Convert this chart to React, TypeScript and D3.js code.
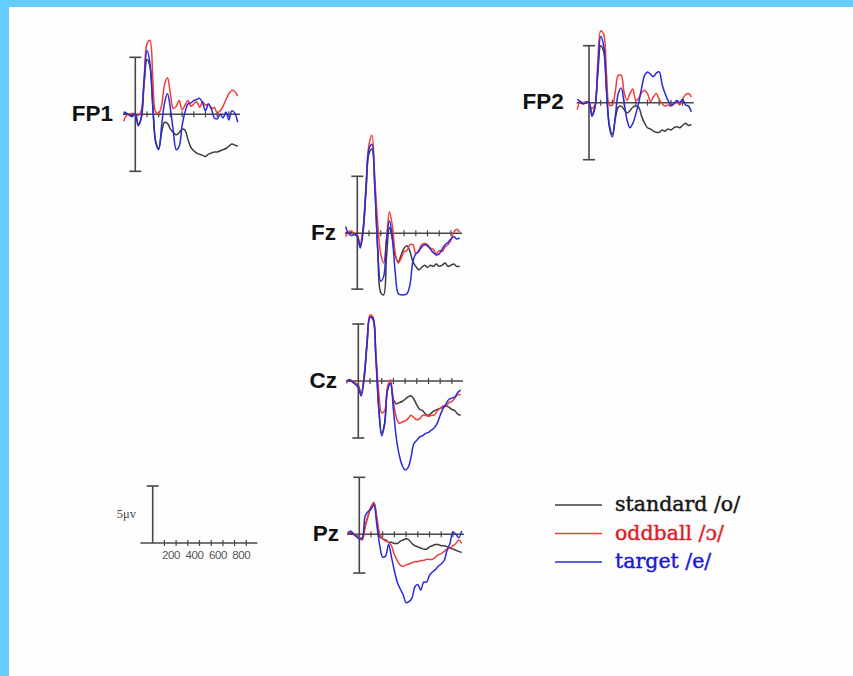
import React from 'react';
import * as d3 from 'd3';

// sample times (ms) shared by every trace
const times = [-100, -75, -50, -25, 0, 25, 50, 75, 100, 125, 150, 175, 200, 225, 250, 275, 300, 325, 350, 375,
  400, 425, 450, 475, 500, 525, 550, 575, 600, 625, 650, 675, 700, 725, 750, 775, 800, 825, 850, 875];

// amplitudes in microvolts
const fp1Standard = [0.1, 0.0, 0.0, -0.1, 0.0, -0.9, -0.4, 2.6, 4.8, 4.2, 0.8, -2.4, -3.0, -1.6, -0.7, -0.8, -1.3, -1.6, -1.8, -1.6,
  -1.3, -1.4, -2.2, -2.9, -3.2, -3.4, -3.5, -3.6, -3.7, -3.5, -3.4, -3.3, -3.3, -3.2, -3.1, -3.0, -2.8, -2.6, -2.7, -2.8];
const fp1Oddball = [-0.6, -0.1, 0.0, 0.1, 0.0, -0.1, 0.3, 2.9, 6.2, 6.5, 3.1, 0.2, 0.1, 0.8, 2.6, 3.2, 1.8, 0.5, 0.7, 1.2,
  0.4, 0.8, 1.2, 0.7, 0.9, 1.1, 0.6, 1.1, 0.8, 0.9, 0.5, 0.6, 0.1, 0.3, 0.7, 1.3, 1.8, 2.1, 2.0, 1.6];
const fp1Target = [0.2, 0.1, -0.1, -0.2, 0.1, -1.0, -0.3, 3.0, 5.6, 4.5, 0.5, -2.5, -3.1, -1.0, 1.0, 1.8, 0.5, -1.5, -3.1, -2.8,
  -1.0, 0.2, 0.9, 1.0, 1.2, 1.3, 1.4, 1.0, 0.3, 0.9, 0.5, -0.3, -0.4, 0.0, -0.3, 0.2, -0.5, 0.3, 0.1, -0.7];

const fp2Standard = [0.0, 0.0, -0.1, 0.0, 0.0, -1.0, -0.4, 2.5, 5.0, 4.5, 1.0, -2.0, -2.8, -1.4, -0.4, -0.3, -0.6, -0.9, -0.7, -0.4,
  -0.3, -0.4, -1.2, -1.8, -2.2, -2.3, -2.5, -2.6, -2.6, -2.4, -2.5, -2.3, -2.4, -2.2, -2.1, -2.2, -2.0, -1.8, -2.0, -1.9];
const fp2Oddball = [-0.6, 0.1, 0.0, 0.1, -0.1, -0.5, -0.2, 3.5, 6.3, 6.0, 2.5, -0.2, -0.2, 1.0, 2.4, 2.4, 0.9, 0.2, 0.8, 1.2,
  0.2, 0.4, 0.9, 1.1, 0.8, 0.1, 0.5, 0.8, 0.3, -0.1, -0.3, -0.2, -0.3, -0.1, 0.1, -0.2, 0.3, 0.7, 0.8, 0.5];
const fp2Target = [0.3, 0.1, -0.1, 0.0, 0.1, -1.2, -0.5, 2.8, 5.8, 5.0, 1.0, -2.2, -3.0, -1.2, 0.8, 1.3, 0.0, -1.5, -2.2, -1.8,
  -1.0, 0.0, 1.3, 2.4, 2.7, 2.5, 2.3, 2.6, 2.7, 1.6, 0.8, 0.2, -0.2, -0.1, 0.2, 0.0, 0.3, -0.2, -0.3, -0.8];

const fzStandard = [0.1, 0.0, 0.1, 0.0, -0.2, -1.1, 0.3, 3.8, 7.0, 7.4, 4.0, -1.5, -5.2, -5.4, -2.0, 0.5, -0.5, -2.0, -2.5, -1.9,
  -1.3, -1.1, -1.6, -2.5, -2.9, -3.2, -3.0, -2.8, -3.0, -2.8, -2.9, -2.7, -2.9, -2.8, -2.6, -2.9, -2.8, -2.7, -2.9, -2.9];
const fzOddball = [-0.3, 0.1, 0.2, -0.1, -0.2, -0.9, 0.5, 4.3, 7.8, 8.6, 4.7, 0.8, -1.8, -2.6, -0.5, 1.9, 0.6, -1.8, -2.6, -2.2,
  -1.6, -1.5, -1.0, -1.0, -1.8, -1.5, -1.0, -0.9, -1.0, -1.3, -1.4, -1.8, -1.5, -1.6, -1.2, -1.0, -0.6, 0.1, 0.35, 0.1];
const fzTarget = [0.6, 0.0, -0.2, -0.1, -0.3, -1.3, 0.2, 4.0, 7.4, 7.8, 4.1, -1.5, -4.2, -3.8, -0.5, 1.1, -0.5, -3.5, -5.3, -5.4,
  -5.4, -5.3, -4.5, -2.5, -1.8, -1.6, -1.2, -1.0, -1.1, -1.4, -1.7, -1.9, -1.8, -1.4, -1.0, -0.8, -0.5, -0.3, -0.5, -0.4];

const czStandard = [0.0, 0.0, 0.0, -0.2, -0.4, -1.1, 0.4, 3.3, 5.6, 5.4, 2.2, -2.3, -4.6, -3.7, -0.7, -0.2, -1.6, -2.0, -1.9, -1.8,
  -1.6, -1.4, -1.3, -1.6, -2.1, -2.5, -2.6, -2.9, -3.0, -2.8, -2.6, -2.5, -2.4, -2.3, -2.2, -2.3, -2.5, -2.6, -2.9, -3.0];
const czOddball = [-0.2, 0.1, 0.0, -0.2, -0.5, -1.1, 0.5, 3.5, 5.8, 5.6, 2.5, -1.0, -2.8, -2.6, -0.5, 0.1, -1.8, -3.2, -3.7, -3.6,
  -3.5, -3.3, -3.0, -3.2, -3.4, -3.3, -3.0, -3.0, -3.1, -3.0, -3.0, -2.6, -2.4, -2.2, -2.2, -1.9, -1.8, -1.5, -1.2, -1.2];
const czTarget = [0.0, 0.1, -0.1, -0.3, -0.6, -1.3, 0.2, 3.3, 5.6, 5.5, 2.0, -2.5, -4.8, -3.8, -0.8, -0.2, -2.5, -5.0, -6.5, -7.4,
  -7.8, -7.6, -6.7, -5.5, -5.2, -4.9, -4.8, -4.6, -4.5, -4.3, -4.1, -3.7, -3.0, -2.4, -2.0, -1.6, -1.5, -1.4, -1.0, -0.8];

const pzStandard = [0.0, 0.1, 0.0, -0.1, -0.3, -0.4, 0.8, 1.6, 2.4, 2.7, 1.2, -0.2, -0.4, -0.5, -0.7, -0.7, -0.8, -0.8, -0.6, -0.5,
  -0.4, -0.5, -0.8, -1.0, -1.1, -1.2, -1.3, -1.3, -1.1, -1.0, -0.9, -0.9, -1.0, -1.0, -1.1, -1.2, -1.3, -1.4, -1.5, -1.6];
const pzOddball = [0.0, 0.2, 0.1, -0.1, -0.3, -0.5, 0.6, 1.6, 2.4, 2.8, 1.5, 0.0, -0.4, -0.6, -0.7, -1.0, -1.8, -2.3, -2.7, -2.8,
  -2.7, -2.6, -2.5, -2.4, -2.4, -2.3, -2.3, -2.2, -2.2, -2.2, -2.0, -1.8, -1.7, -1.5, -1.3, -1.2, -1.0, -0.8, -0.5, -0.8];
const pzTarget = [0.1, 0.3, 0.0, -0.2, -0.4, -0.3, 1.6, 2.0, 2.2, 2.6, 0.8, -1.0, -2.0, -1.9, -0.9, -2.0, -3.2, -4.2, -4.8, -5.3,
  -6.0, -5.9, -5.6, -4.6, -4.4, -4.9, -4.2, -4.2, -3.6, -3.3, -3.1, -2.8, -2.6, -2.3, -1.4, -0.8, 0.2, 0.0, -0.3, 0.3];

const tickTimes = [100, 200, 300, 400, 500, 600, 700, 800];
const scaleLabels = [200, 400, 600, 800];
const conditions = ['standard /o/', 'oddball /ɔ/', 'target /e/'];
const colors = ['#3c3c3c', '#f03c3c', '#2a2ad8'];
const textColors = ['#161616', '#e01e28', '#1a1ad0'];

const PX_PER_MS = 0.117;
const PX_PER_UV = 11.4;
const AXIS_COLOR = '#474747';

const panels = [
  { name: 'FP1', x: 135.3, y: 114.3, top: 5, bottom: -5, gap: 10, series: [fp1Standard, fp1Oddball, fp1Target] },
  { name: 'FP2', x: 589, y: 102.7, top: 5, bottom: -5, gap: 13, series: [fp2Standard, fp2Oddball, fp2Target] },
  { name: 'Fz', x: 357.3, y: 233.3, top: 5, bottom: -4.9, gap: 9, series: [fzStandard, fzOddball, fzTarget] },
  { name: 'Cz', x: 358.3, y: 381, top: 5, bottom: -5, gap: 9, series: [czStandard, czOddball, czTarget] },
  { name: 'Pz', x: 359.3, y: 534.3, top: 5, bottom: -3.4, gap: 8, series: [pzStandard, pzOddball, pzTarget] },
];

const makeScales = (x0: number, y0: number) => {
  const x = d3.scaleLinear().domain([0, 100]).range([x0, x0 + 100 * PX_PER_MS]);
  const y = d3.scaleLinear().domain([0, 1]).range([y0, y0 - PX_PER_UV]);
  return { x, y };
};

const TimeAxis = ({ x, y }: { x: d3.ScaleLinear<number, number>; y: number }) => (
  <g stroke={AXIS_COLOR} strokeWidth={1.5}>
    <line x1={x(-105)} x2={x(895)} y1={y} y2={y} />
    {tickTimes.map(t => (
      <line key={t} x1={x(t)} x2={x(t)} y1={y - 3} y2={y + 3} strokeWidth={1.2} />
    ))}
  </g>
);

const Panel = ({ p }: { p: typeof panels[number] }) => {
  const { x, y } = makeScales(p.x, p.y);
  const line = d3.line<number>()
    .x((_, i) => x(times[i]))
    .y(d => y(d))
    .curve(d3.curveCatmullRom.alpha(0.5));
  return (
    <g>
      <TimeAxis x={x} y={p.y} />
      <g stroke={AXIS_COLOR} strokeWidth={1.6}>
        <line x1={p.x} x2={p.x} y1={y(p.top)} y2={y(p.bottom)} />
        <line x1={p.x - 6} x2={p.x + 6} y1={y(p.top)} y2={y(p.top)} />
        <line x1={p.x - 6} x2={p.x + 6} y1={y(p.bottom)} y2={y(p.bottom)} />
      </g>
      <text x={x(-105) - p.gap} y={p.y + 6.5} textAnchor="end"
        fontFamily="'Liberation Sans', Arial, sans-serif" fontWeight="bold" fontSize={22.5} fill="#111">
        {p.name}
      </text>
      {p.series.map((s, i) => (
        <path key={i} d={line(s) ?? ''} fill="none" stroke={colors[i]} strokeWidth={1.5} strokeLinejoin="round" />
      ))}
    </g>
  );
};

const ScaleBar = () => {
  const x0 = 152.7, y0 = 543;
  const { x, y } = makeScales(x0, y0);
  return (
    <g>
      <TimeAxis x={x} y={y0} />
      <g stroke={AXIS_COLOR} strokeWidth={1.6}>
        <line x1={x0} x2={x0} y1={y(0)} y2={y(5)} />
        <line x1={x0 - 6} x2={x0 + 6} y1={y(5)} y2={y(5)} />
      </g>
      <text x={136} y={y(2.2)} textAnchor="end" fontFamily="'Liberation Serif', 'Times New Roman', serif"
        fontSize={12.5} fill="#444">5μv</text>
      {scaleLabels.map(t => (
        <text key={t} x={x(t) - 5} y={y0 + 16} textAnchor="middle" fontFamily="'Liberation Sans', Arial, sans-serif"
          fontSize={11.5} letterSpacing={-0.4} fill="#555">{t}</text>
      ))}
    </g>
  );
};

const Legend = () => {
  const rowY = d3.scalePoint<string>().domain(conditions).range([505, 562]);
  return (
    <g>
      {conditions.map((c, i) => (
        <g key={c}>
          <line x1={555} x2={602} y1={rowY(c)} y2={rowY(c)} stroke={colors[i]} strokeWidth={1.4} />
          <text x={615} y={(rowY(c) ?? 0) + 6} fontFamily="'DejaVu Serif', serif" fontSize={20.5}
            fill={textColors[i]} stroke={textColors[i]} strokeWidth={0.45}>{c}</text>
        </g>
      ))}
    </g>
  );
};

export default function App() {
  return (
    <svg width={853} height={676} style={{ position: 'absolute', left: 0, top: 0, display: 'block' }}>
      <rect width={853} height={676} fill="#fdfdfd" />
      <rect width={853} height={7} fill="#66ccff" />
      <rect width={9} height={676} fill="#66ccff" />
      {panels.map(p => <Panel key={p.name} p={p} />)}
      <ScaleBar />
      <Legend />
    </svg>
  );
}
